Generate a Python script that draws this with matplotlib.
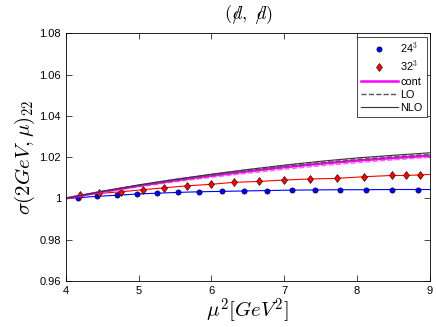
import numpy as np
import matplotlib
matplotlib.use('Agg')
import matplotlib.pyplot as plt
from matplotlib.ticker import FormatStrFormatter

plt.rcParams['font.family'] = ['Liberation Sans', 'DejaVu Sans']
plt.rcParams['mathtext.fontset'] = 'cm'

# lattice data, 24^3
mu2_24 = [4.165, 4.430, 4.696, 4.971, 5.246, 5.538, 5.831, 6.139, 6.449, 6.765,
          7.100, 7.420, 7.764, 8.121, 8.474, 8.839]
sig_24 = [1.0003, 1.0010, 1.0015, 1.0021, 1.0025, 1.0029, 1.0032, 1.0034, 1.0036, 1.0038,
          1.0040, 1.0041, 1.0042, 1.0042, 1.0043, 1.0043]

# lattice data, 32^3
mu2_32 = [4.192, 4.453, 4.760, 5.054, 5.346, 5.666, 5.988, 6.312, 6.651, 6.999,
          7.352, 7.718, 8.098, 8.474, 8.670, 8.863]
sig_32 = [1.0016, 1.0024, 1.0032, 1.0042, 1.0051, 1.0061, 1.0068, 1.0078, 1.0082, 1.0089,
          1.0094, 1.0097, 1.0105, 1.0111, 1.0111, 1.0114]

# fit lines through the data
fit_x = [4.0] + mu2_24 + [9.0]
fit_24 = [1.0000] + sig_24 + [1.0043]
fit32_x = [4.0] + mu2_32 + [9.0]
fit_32 = [1.0000] + sig_32 + [1.0116]

# perturbative curves
mu2 = [4.0, 4.5, 5.0, 5.5, 6.0, 6.5, 7.0, 7.5, 8.0, 8.5, 9.0]
cont = [1.0000, 1.0032, 1.0061, 1.0087, 1.0110, 1.0131, 1.0151, 1.0168, 1.0183, 1.0196, 1.0207]
cont_lo = [1.0000, 1.0029, 1.0056, 1.0080, 1.0102, 1.0122, 1.0141, 1.0158, 1.0173, 1.0187, 1.0199]
cont_hi = [1.0000, 1.0034, 1.0065, 1.0093, 1.0117, 1.0139, 1.0160, 1.0177, 1.0192, 1.0205, 1.0215]
lo = [1.0000, 1.0032, 1.0062, 1.0088, 1.0112, 1.0134, 1.0154, 1.0172, 1.0187, 1.0200, 1.0211]
nlo = [1.0000, 1.0034, 1.0065, 1.0092, 1.0117, 1.0140, 1.0161, 1.0180, 1.0196, 1.0209, 1.0221]

fig = plt.figure(figsize=(4.36, 3.27), dpi=100)
ax = fig.add_axes([0.151, 0.141, 0.835, 0.757])

ax.plot(fit_x, fit_24, color='blue', lw=0.8)
ax.plot(fit32_x, fit_32, color='red', lw=0.8)
ax.plot(mu2, cont_lo, color='#ff66ff', ls='--', lw=1.0)
ax.plot(mu2, cont_hi, color='#ff66ff', ls='--', lw=1.0)
p1, = ax.plot(mu2_24, sig_24, 'o', color='blue', mec='k', mew=0.4, ms=3.8, label='24$^3$')
p2, = ax.plot(mu2_32, sig_32, 'd', color='red', mec='k', mew=0.4, ms=4.5, label='32$^3$')
l1, = ax.plot(mu2, cont, color='magenta', lw=1.8, label='cont')
l2, = ax.plot(mu2, lo, color='#555555', ls='--', lw=1.0, label='LO')
l3, = ax.plot(mu2, nlo, color='#333333', lw=0.8, label='NLO')

ax.set_xlim(4, 9)
ax.set_ylim(0.96, 1.08)
ax.set_xticks([4, 5, 6, 7, 8, 9])
ax.set_yticks([0.96, 0.98, 1.0, 1.02, 1.04, 1.06, 1.08])
ax.yaxis.set_major_formatter(FormatStrFormatter('%g'))
ax.tick_params(direction='in', top=True, right=True, labelsize=8, length=4, width=0.5)
for s in ax.spines.values():
    s.set_linewidth(0.6)

ax.set_xlabel(r'$\mu^2[GeV^2]$', fontsize=15, labelpad=0)
ax.set_ylabel(r'$\sigma(2GeV,\mu)_{22}$', fontsize=15, labelpad=2)
ax.set_title(r'$(/\!\!\!d,\ /\!\!\!d)$', fontsize=13, pad=10)

leg = ax.legend(handles=[p1, p2, l1, l2, l3], loc='upper right', fontsize=7.8,
                fancybox=False, edgecolor='k', framealpha=1, handlelength=3.4,
                borderpad=0.4, labelspacing=0.3, handletextpad=0.2,
                borderaxespad=0.3)
leg.get_frame().set_linewidth(0.5)

fig.savefig('out.png', dpi=100)
